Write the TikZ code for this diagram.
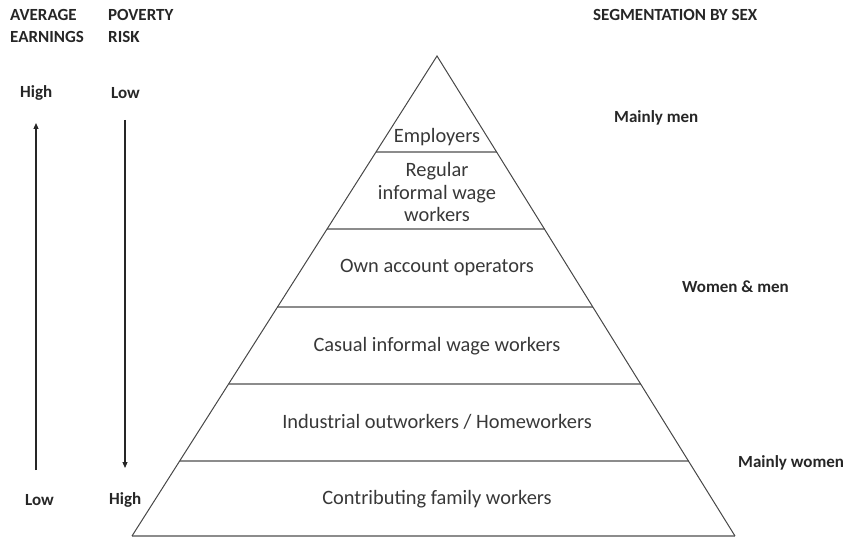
\documentclass[tikz,border=0pt]{standalone}
\usepackage{fontspec}
\setmainfont{Carlito}
\usetikzlibrary{arrows.meta,calc}

\begin{document}
\begin{tikzpicture}[
 x=1pt,y=-1pt,
 level/.style={font=\fontsize{20.4}{22.5}\selectfont,text=black!78,align=center,inner sep=0pt},
 side/.style={font=\fontsize{17}{21.5}\selectfont\bfseries,text=black!85,align=left,inner sep=0pt,anchor=west},
 edge/.style={draw=black!72,line width=1pt},
 band/.style={draw=black!45,line width=2pt},
 flow/.style={-{Triangle[length=6pt,width=5pt]},line width=1.1pt,draw=black!85}]
\useasboundingbox (0,0) rectangle (843,537);
% pyramid outline and bands
\coordinate (apex) at (437,56);
\coordinate (baseL) at (132,536);
\coordinate (baseR) at (735,536);
\foreach \t in {0.2,0.361,0.523,0.683,0.844}
 \draw[band] ($(apex)!\t!(baseL)$) -- ($(apex)!\t!(baseR)$);
\draw[band] (baseL) -- (baseR);
\draw[edge,line join=miter] (baseL) -- (apex) -- (baseR);
\node[level] (employers) at (437,137) {Employers};
\node[level] (regular) at (437,192) {Regular\\informal wage\\workers};
\node[level] (own) at (437,268) {Own account operators};
\node[level] (casual) at (437,346) {Casual informal wage workers};
\node[level] (home) at (437,422) {Industrial outworkers / Homeworkers};
\node[level] (family) at (437,499) {Contributing family workers};
% left scales
\node[side] (earnings) at (10,26) {AVERAGE\\EARNINGS};
\node[side] (poverty) at (108,26) {POVERTY\\RISK};
\node[side] (earnHigh) at (20,93) {High};
\node[side] (povLow) at (111,93) {Low};
\node[side] (earnLow) at (25,500) {Low};
\node[side] (povHigh) at (109,500) {High};
\coordinate (earnFrom) at (36,470);
\coordinate (earnTo) at (36,123);
\coordinate (povFrom) at (125,120);
\coordinate (povTo) at (125,468);
\draw[flow] (earnFrom) -- (earnTo);
\draw[flow] (povFrom) -- (povTo);
% right labels
\node[side] (segment) at (593,15) {SEGMENTATION BY SEX};
\node[side] (men) at (614,118) {Mainly men};
\node[side] (both) at (682,287) {Women \& men};
\node[side] (women) at (738,463) {Mainly women};
\end{tikzpicture}
\end{document}
